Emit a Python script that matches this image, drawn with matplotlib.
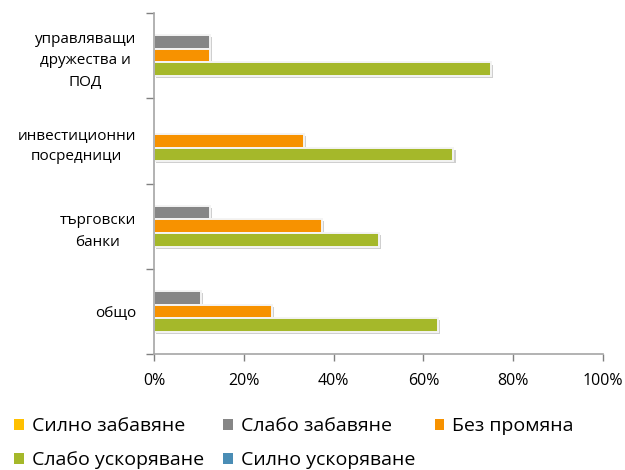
import numpy as np
import matplotlib.pyplot as plt
from matplotlib.patches import Patch
import matplotlib.patheffects as pe

plt.rcParams['font.family'] = ['Open Sans', 'DejaVu Sans']

categories = ['общо', 'търговски\nбанки', 'инвестиционни\nпосредници', 'управляващи\nдружества и\nПОД']
series = ['Силно забавяне', 'Слабо забавяне', 'Без промяна', 'Слабо ускоряване', 'Силно ускоряване']
colors = ['#FFC000', '#868686', '#F79200', '#A5B82A', '#4A8DB5']

# shares per category (bottom to top), in percent
strong_slow = [0, 0, 0, 0]
weak_slow = [10.5, 12.5, 0, 12.5]
no_change = [26.3, 37.5, 33.3, 12.5]
weak_fast = [63.2, 50.0, 66.7, 75.0]
strong_fast = [0, 0, 0, 0]
values = [strong_slow, weak_slow, no_change, weak_fast, strong_fast]

fig = plt.figure(figsize=(6.25, 4.7), dpi=100)
ax = fig.add_axes([0.2464, 0.2468, 0.7184, 0.7255])

y = np.arange(len(categories))
h = 0.16
shadow = [pe.SimplePatchShadow(offset=(1.5, -1.5), shadow_rgbFace='#b0b0b0', alpha=0.6), pe.Normal()]
for i, (name, vals, c) in enumerate(zip(series, values, colors)):
    off = (2 - i) * h
    ax.barh(y + off, vals, height=h, color=c, edgecolor='#f4f4f4', linewidth=1.4,
            label=name, path_effects=shadow)

ax.set_xlim(0, 100)
ax.set_ylim(-0.5, len(categories) - 0.5)
ax.set_xticks(np.arange(0, 101, 20))
ax.set_xticklabels([f'{v}%' for v in range(0, 101, 20)], fontsize=11.5)
ax.set_yticks(y)
ax.set_yticklabels(categories, fontsize=11, multialignment='center', linespacing=1.6)
ax.tick_params(axis='y', length=0, pad=13)
ax.set_yticks(np.arange(-0.5, len(categories), 1), minor=True)
ax.tick_params(axis='y', which='minor', length=6, color='#808080', width=1)
ax.tick_params(axis='x', length=5, color='#808080', width=1, pad=9)
for s in ['top', 'right']:
    ax.spines[s].set_visible(False)
for s in ['left', 'bottom']:
    ax.spines[s].set_color('#a6a6a6')
    ax.spines[s].set_linewidth(1.2)

# legend filled row by row: column-major order of entries
order = [0, 3, 1, 4, 2]
handles = [Patch(facecolor=colors[k], edgecolor='none') for k in order]
labels = [series[k] for k in order]
fig.legend(handles, labels, loc='lower left', bbox_to_anchor=(-0.005, -0.035), ncol=3,
           frameon=False, fontsize=14, handlelength=0.5, handleheight=0.5,
           handletextpad=0.4, columnspacing=1.0, labelspacing=0.8)

fig.savefig('out.png', dpi=100)
